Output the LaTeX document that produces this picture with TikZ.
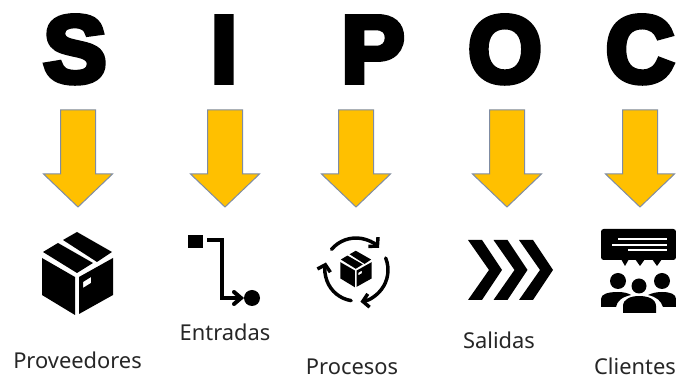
\documentclass[tikz,border=0pt]{standalone}
\usepackage{fontspec}
\setmainfont{Noto Sans}
\newfontfamily\bigletter[FakeBold=6]{Liberation Sans Bold}
\usetikzlibrary{arrows.meta}
\definecolor{arrowfill}{HTML}{FFC000}
\definecolor{arrowline}{HTML}{7F8CA3}
\newcommand{\downarrowshape}[1]{%
  \path[bigarrow] (#1-17.5,110) -- (#1+17.5,110) -- (#1+17.5,174) -- (#1+34.5,174) -- (#1,207) -- (#1-34.5,174) -- (#1-17.5,174) -- cycle;}
\newcommand{\cartonicon}{%
  \fill (42,258) -- (75,277) -- (75,315) -- (42,295) -- cycle;
  \fill[even odd rule] (79,277) -- (113,258) -- (113,295) -- (79,314) -- cycle
    (83,282) -- (91,277) -- (91,283) -- (83,288) -- cycle;
  \fill (43,252) -- (58,243) -- (93,263) -- (77,273) -- cycle;
  \fill (63,240) -- (77,232) -- (112,252) -- (97,262) -- cycle;}
\tikzset{
  x=0.75pt, y=-0.75pt,
  bigarrow/.style={fill=arrowfill, draw=arrowline, line width=0.75pt, line join=miter},
  letter/.style={anchor=base, inner sep=0pt, font=\bigletter\fontsize{71}{71}\selectfont},
  caption/.style={anchor=base, inner sep=0pt, text depth=0pt, font=\fontsize{16.4}{19}\selectfont, text=black!85},
  iconline/.style={draw=black, line width=3pt},
  loopline/.style={draw=black, line width=2.6pt, line cap=round, -{Straight Barb[length=4.5pt,width=10pt,line width=2.6pt]}},
  bubbletext/.style={draw=white, line width=1pt}
}
\begin{document}
\begin{tikzpicture}
\useasboundingbox (0,0) rectangle (676,377);
\fill[white] (0,0) rectangle (676,377);
% letters
\node[letter] (ls) at (75,82) {S};
\node[letter] (li) at (224,82) {I};
\node[letter] (lp) at (373,82) {P};
\node[letter] (lo) at (505,82) {O};
\node[letter] (lc) at (640,82) {C};
% arrows
\downarrowshape{78}
\downarrowshape{225}
\downarrowshape{356}
\downarrowshape{507}
\downarrowshape{640}
% box
\cartonicon
% flow
\fill (188,235) rectangle (203,248);
\fill (252,298) circle[radius=8];
\draw[iconline, line join=miter] (207,240) -- (222,240) -- (222,298) -- (240,298);
\draw[iconline, line cap=round, line join=miter] (234,292) -- (241,298) -- (234,304);
% process
\begin{scope}[shift={(356,269)}, scale=.44, shift={(-77.5,-273.5)}]
\cartonicon
\end{scope}
\draw[loopline] (356,270) ++(-140:32) arc[start angle=-140, end angle=-44, radius=32];
\draw[loopline] (356,270) ++(-22:32) arc[start angle=-22, end angle=82, radius=32];
\draw[loopline] (356,270) ++(99:31) arc[start angle=99, end angle=194, radius=31];
% chevrons
\foreach \dx in {0,25.5,51}{
  \fill[xshift=\dx*0.75pt] (468,240) -- (482,240) -- (502,270) -- (482,300) -- (468,300) -- (489,270) -- cycle;
}
% clients
\fill[rounded corners=2pt] (601,229) rectangle (676,260);
\fill (621,259) -- (629,259) -- (625,266) -- cycle;
\fill (635,259) -- (645,259) -- (640,266) -- cycle;
\fill (652,259) -- (662,259) -- (657,266) -- cycle;
\draw[bubbletext] (618,239) -- (667,239);
\draw[bubbletext] (612,245) -- (667,245);
\draw[bubbletext] (628,250) -- (667,250);
\fill (618,281) circle[radius=8];
\fill (662,281) circle[radius=8];
\fill (639,286) circle[radius=7.5];
\fill (601,307) -- (601,299) .. controls (601,294) and (608,292) .. (618,292) .. controls (623,292) and (628,293) .. (631,295) .. controls (622,297) and (617,301) .. (616,307) -- cycle;
\fill (676,307) -- (676,299) .. controls (676,294) and (670,292) .. (662,292) .. controls (657,292) and (652,293) .. (648,295) .. controls (657,297) and (661,301) .. (663,307) -- cycle;
\fill (623,313) -- (623,306) .. controls (623,299) and (631,296) .. (639,296) .. controls (648,296) and (656,299) .. (656,306) -- (656,313) -- cycle;
% captions
\node[caption] (t1) at (77.5,368.5) {Proveedores};
\node[caption] (t2) at (225,340.5) {Entradas};
\node[caption] (t3) at (352,374.5) {Procesos};
\node[caption] (t4) at (499,348.5) {Salidas};
\node[caption] (t5) at (635,374.5) {Clientes};
\end{tikzpicture}
\end{document}
